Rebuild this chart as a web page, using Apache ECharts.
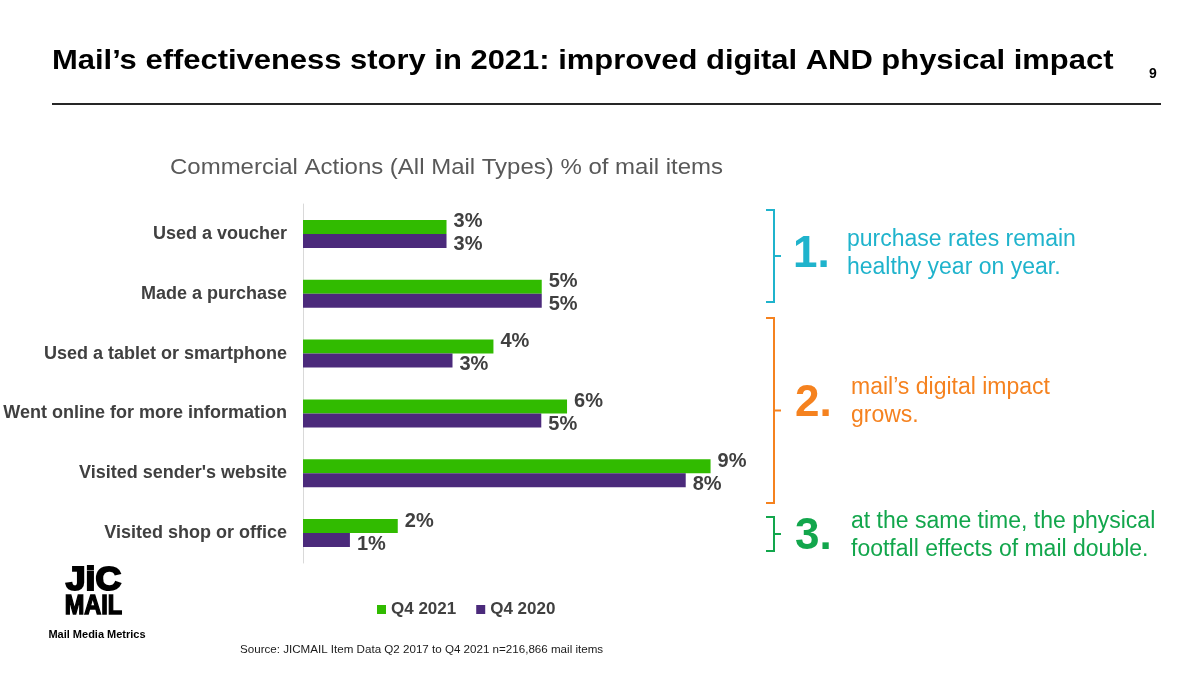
<!DOCTYPE html>
<html>
<head>
<meta charset="utf-8">
<script src="https://cdn.jsdelivr.net/npm/echarts@6/dist/echarts.min.js"></script>
<style>
html,body{margin:0;padding:0;background:#fff;}
#c{width:1200px;height:681px;}
</style>
</head>
<body>
<div id="c"></div>
<script>
var categories = ["Used a voucher","Made a purchase","Used a tablet or smartphone","Went online for more information","Visited sender's website","Visited shop or office"];
var seriesNames = ["Q4 2021","Q4 2020"];
var q4_2021 = [3.12, 5.19, 4.14, 5.74, 8.86, 2.06];
var q4_2020 = [3.12, 5.19, 3.25, 5.18, 8.32, 1.02];

var F = "Arial, 'Liberation Sans', sans-serif";
var chart = echarts.init(document.getElementById('c'));

function txt(x, y, text, size, color, weight, align, extra) {
  var o = {type:'text', x:x, y:y, style:{text:text, font:(weight||'normal')+' '+size+'px '+F, fill:color, textAlign:align||'left', textVerticalAlign:'middle'}};
  if (extra) {
    for (var k in extra) {
      if (k === 'stroke' || k === 'lineWidth') o.style[k] = extra[k];
      else o[k] = extra[k];
    }
  }
  return o;
}
function bracket(x, y1, y2, color) {
  var ym = (y1 + y2) / 2;
  return [
    {type:'polyline', shape:{points:[[x-8,y1],[x,y1],[x,y2],[x-8,y2]]}, style:{stroke:color, lineWidth:2, fill:null}},
    {type:'line', shape:{x1:x, y1:ym, x2:x+7, y2:ym}, style:{stroke:color, lineWidth:2}}
  ];
}

var cyan = '#1fb3cc', orange = '#f5821f', green = '#12a64c';

var graphics = [
  txt(52, 61, "Mail\u2019s effectiveness story in 2021: improved digital AND physical impact", 28, '#000', 'bold', 'left', {scaleX:1.105, originX:0, originY:0}),
  txt(1153, 74, "9", 14, '#000', 'bold', 'center'),
  {type:'line', shape:{x1:52, y1:104, x2:1161, y2:104}, style:{stroke:'#262626', lineWidth:2}},
  txt(170, 168, "Commercial Actions (All Mail Types) % of mail items", 22, '#595959', 'normal', 'left', {scaleX:1.09, originX:0, originY:0}),
  txt(240, 650, "Source: JICMAIL Item Data Q2 2017 to Q4 2021 n=216,866 mail items", 11.6, '#1a1a1a'),
  txt(93.5, 581, "JiC", 33, '#000', 'bold', 'center', {scaleX:1.08, originX:0, originY:0, stroke:'#000', lineWidth:2}),
  txt(93.5, 606, "MAIL", 28, '#000', 'bold', 'center', {scaleX:0.84, originX:0, originY:0, stroke:'#000', lineWidth:1.5}),
  txt(97, 635, "Mail Media Metrics", 11, '#000', 'bold', 'center'),
  txt(793, 255, "1.", 44, cyan, 'bold'),
  txt(847, 240, "purchase rates remain", 23, cyan),
  txt(847, 268, "healthy year on year.", 23, cyan),
  txt(795, 404, "2.", 44, orange, 'bold'),
  txt(851, 388, "mail\u2019s digital impact", 23, orange),
  txt(851, 416, "grows.", 23, orange),
  txt(795, 537, "3.", 44, green, 'bold'),
  txt(851, 522, "at the same time, the physical", 23, green),
  txt(851, 550, "footfall effects of mail double.", 23, green)
].concat(bracket(774, 210, 302, cyan), bracket(774, 318, 503, orange), bracket(774, 517, 551, green));

chart.setOption({
  backgroundColor:'#fff',
  animation:false,
  grid:{left:303, top:204, width:460, height:359, containLabel:false},
  xAxis:{type:'value', min:0, max:10, show:false},
  yAxis:{type:'category', inverse:true, data:categories,
    axisLine:{show:true, lineStyle:{color:'#d9d9d9', width:1}},
    axisTick:{show:false}, splitLine:{show:false},
    axisLabel:{margin:16, color:'#404040', fontWeight:'bold', fontSize:18, fontFamily:F, padding:[3,0,0,0]}},
  legend:{left:372, top:596, itemWidth:9, itemHeight:9, itemGap:20, icon:'rect',
    textStyle:{color:'#404040', fontWeight:'bold', fontSize:17, fontFamily:F},
    data:seriesNames},
  series:[
    {name:seriesNames[0], type:'bar', data:q4_2021, barWidth:14, barGap:'0%', itemStyle:{color:'#31bb00'},
     label:{show:true, position:'right', distance:5, offset:[2,-5], formatter:function(p){return Math.round(p.value)+'%';}, color:'#404040', fontWeight:'bold', fontSize:20, fontFamily:F}},
    {name:seriesNames[1], type:'bar', data:q4_2020, barWidth:14, barGap:'0%', itemStyle:{color:'#4b2a7b'},
     label:{show:true, position:'right', distance:5, offset:[2,4], formatter:function(p){return Math.round(p.value)+'%';}, color:'#404040', fontWeight:'bold', fontSize:20, fontFamily:F}}
  ],
  graphic:graphics
});
</script>
</body>
</html>
